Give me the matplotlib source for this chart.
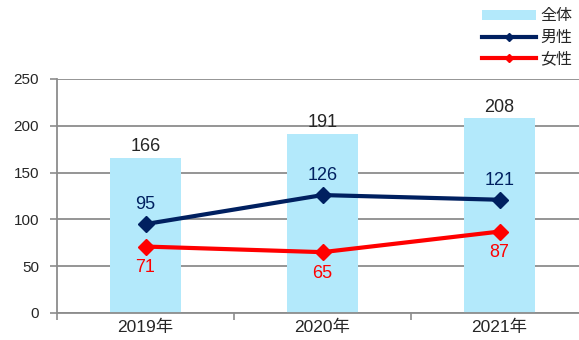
import numpy as np
import matplotlib.pyplot as plt

plt.rcParams['font.family'] = ['Liberation Sans', 'Noto Sans CJK JP']

years = ['2019年', '2020年', '2021年']
total = [166, 191, 208]
male = [95, 126, 121]
female = [71, 65, 87]

x = np.arange(len(years))
grid_c = '#8c8c8c'
text_c = '#262626'

fig = plt.figure(figsize=(5.79, 3.40), dpi=100)
ax = fig.add_axes([57 / 579, 27 / 340, 522 / 579, 234 / 340])

bars = ax.bar(x, total, width=0.4, color='#b3e9fb', label='全体', zorder=2)
l1, = ax.plot(x, male, color='#002060', lw=3.0, marker='D', ms=8,
              label='男性', zorder=3)
l2, = ax.plot(x, female, color='#ff0000', lw=3.0, marker='D', ms=8,
              label='女性', zorder=3)

for xi, v in zip(x, total):
    ax.annotate(str(v), (xi, v), xytext=(0, 2), textcoords='offset points',
                ha='center', va='bottom', fontsize=13, color=text_c)
for xi, v in zip(x, male):
    ax.annotate(str(v), (xi, v), xytext=(0, 8), textcoords='offset points',
                ha='center', va='bottom', fontsize=13, color='#002060')
for xi, v in zip(x, female):
    ax.annotate(str(v), (xi, v), xytext=(0, -9), textcoords='offset points',
                ha='center', va='top', fontsize=13, color='#ff0000')

ax.set_yticks(range(0, 251, 50))
ax.set_xticks(x)
ax.set_xticklabels(years)
ax.set_xticks([-0.5, 0.5, 1.5, 2.5], minor=True)
ax.set_ylim(0, 250)
ax.set_xlim(-0.5, 2.449)
ax.tick_params(axis='x', which='major', length=0, pad=5, labelsize=12.5,
               colors=text_c)
ax.tick_params(axis='x', which='minor', length=5, color=grid_c, width=1.2)
ax.tick_params(axis='y', length=5, color=grid_c, width=1.2, labelsize=11,
               labelcolor=text_c, pad=8)
ax.grid(axis='y', color=grid_c, lw=1.3, zorder=0)
ax.set_axisbelow(True)
for s in ['top', 'right']:
    ax.spines[s].set_visible(False)
for s in ['left', 'bottom']:
    ax.spines[s].set_color(grid_c)
    ax.spines[s].set_linewidth(1.3)

fig.legend(handles=[bars, l1, l2], loc='upper right',
           bbox_to_anchor=(1.012, 1.015), frameon=False, fontsize=11.5,
           handlelength=3.4, handleheight=0.6, handletextpad=0.25,
           labelspacing=0.4, borderpad=0.35, markerscale=0.5,
           labelcolor=text_c)

fig.savefig('out.png', dpi=100)
